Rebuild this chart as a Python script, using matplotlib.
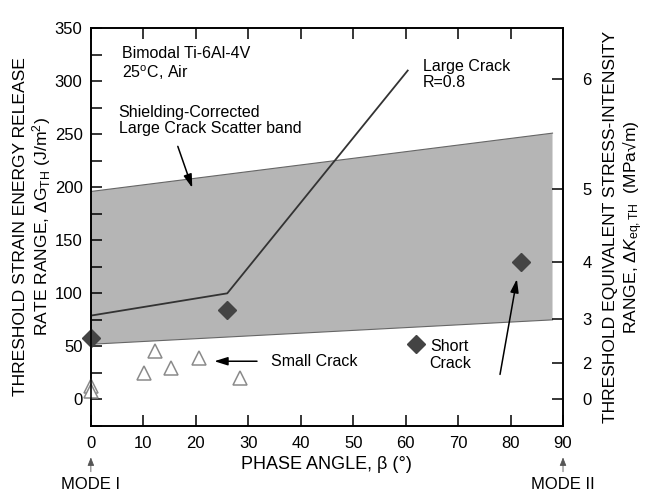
import matplotlib
matplotlib.use("Agg")
import matplotlib.pyplot as plt
from matplotlib.patches import Polygon

plt.rcParams["font.family"] = ["Liberation Sans", "DejaVu Sans"]
plt.rcParams["mathtext.fontset"] = "custom"
plt.rcParams["mathtext.rm"] = "Liberation Sans"
plt.rcParams["mathtext.it"] = "Liberation Sans:italic"

# scatter band corners (phase angle, dG)
BAND_X = [0, 88]
BAND_LO = [52, 75]
BAND_HI = [196, 251]

# large crack R=0.8 line
LARGE_X = [0, 26, 60.4]
LARGE_G = [79, 100, 310]

# filled diamonds
DIAM_X = [0, 26, 62, 82]
DIAM_G = [58, 84, 52, 130]

# small crack open triangles
TRI_X = [0, 0, 10.1, 12.2, 15.2, 20.6, 28.4]
TRI_G = [13, 8, 25, 46, 30, 39, 20]

# right axis: dK_eq ticks placed at their dG equivalents
K_LABELS = ["0", "2", "3", "4", "5", "6"]
K_AT_G = [0, 34, 76, 130, 198, 302]

fig = plt.figure(figsize=(6.49, 4.93), dpi=100)
ax = fig.add_axes([0.140, 0.136, 0.7275, 0.807])

band = Polygon([(BAND_X[0], BAND_LO[0]), (BAND_X[1], BAND_LO[1]),
                (BAND_X[1], BAND_HI[1]), (BAND_X[0], BAND_HI[0])],
               closed=True, facecolor="#b5b5b5", edgecolor="none", zorder=1)
ax.add_patch(band)
ax.plot(BAND_X, BAND_HI, color="#666666", lw=0.8, zorder=2)
ax.plot(BAND_X, BAND_LO, color="#666666", lw=0.8, zorder=2)

ax.plot(LARGE_X, LARGE_G, color="#333333", lw=1.3, zorder=3)
ax.plot(DIAM_X, DIAM_G, "D", color="#444444", ms=9, ls="none", zorder=4, clip_on=False)
ax.plot(TRI_X, TRI_G, "^", mfc="white", mec="#8a8a8a", mew=1.1, ms=10,
        ls="none", zorder=4, clip_on=False)

fs = 11.5
arrow = dict(arrowstyle="-|>,head_length=0.8,head_width=0.25", color="black", lw=1.1)
ax.text(5.9, 316, "Bimodal Ti-6Al-4V\n25$^{\\rm o}$C, Air", fontsize=fs,
        va="center", ha="left", linespacing=1.15)
ax.text(5.3, 263, "Shielding-Corrected\nLarge Crack Scatter band", fontsize=fs,
        va="center", ha="left", linespacing=1.15)
ax.annotate("", xy=(19.5, 197), xytext=(16.4, 241), arrowprops=arrow)
ax.text(63.3, 306, "Large Crack\nR=0.8", fontsize=fs, va="center", ha="left",
        linespacing=1.1)
ax.text(34.3, 36, "Small Crack", fontsize=fs, va="center", ha="left")
ax.annotate("", xy=(23.0, 36), xytext=(32.2, 36), arrowprops=arrow)
ax.text(68.4, 42, "Short\nCrack", fontsize=fs, va="center", ha="center",
        linespacing=1.15)
ax.annotate("", xy=(81.3, 116), xytext=(77.9, 21), arrowprops=arrow)

ax.set_xlim(0, 90)
ax.set_ylim(-24, 350)
ax.set_xticks(range(0, 91, 10))
ax.set_yticks(range(0, 351, 50))
ax.set_yticks(range(-25, 351, 25), minor=True)
ax.tick_params(axis="both", which="both", direction="in", length=8, width=1.1,
               labelsize=12, top=True)
ax.tick_params(axis="y", pad=6)
ax.tick_params(axis="x", pad=7)
for s in ax.spines.values():
    s.set_linewidth(1.2)

ax.set_xlabel("PHASE ANGLE, β (°)", fontsize=13, labelpad=4)
ax.set_ylabel("THRESHOLD STRAIN ENERGY RELEASE\n"
              "RATE RANGE, ΔG$_{\\rm TH}$ (J/m$^2$)", fontsize=12.6, labelpad=1,
              linespacing=1.15)

ax2 = ax.twinx()
ax2.set_ylim(ax.get_ylim())
ax2.set_yticks(K_AT_G)
ax2.set_yticklabels(K_LABELS)
ax2.tick_params(axis="y", direction="in", length=8, width=1.1, labelsize=12, pad=14)
for s in ax2.spines.values():
    s.set_linewidth(1.2)
ax2.set_ylabel("THRESHOLD EQUIVALENT STRESS-INTENSITY\n"
               "RANGE, Δ$K_{\\rm eq,TH}$  (MPa√m)", fontsize=12.6, labelpad=8,
               linespacing=1.15)

# mode markers below the x axis
for xv, lab in [(0, "MODE I"), (90, "MODE II")]:
    ax.annotate("", xy=(xv, -0.072), xytext=(xv, -0.122),
                xycoords=("data", "axes fraction"), annotation_clip=False,
                arrowprops=dict(arrowstyle="-|>,head_length=0.5,head_width=0.2",
                                color="#555555", lw=0.6))
    ax.text(xv, -0.147, lab, transform=ax.get_xaxis_transform(), fontsize=12,
            ha="center", va="center", clip_on=False)

fig.savefig("out.png", dpi=100)
